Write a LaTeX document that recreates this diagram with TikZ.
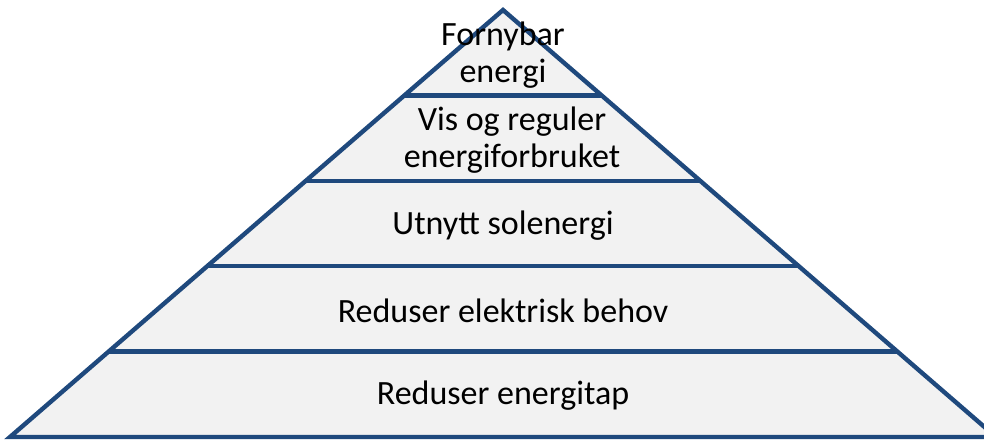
\documentclass[tikz,border=0pt]{standalone}
\usepackage{fontspec}
\setmainfont{Carlito}
\usetikzlibrary{calc}
\definecolor{pyrline}{RGB}{31,73,125}
\definecolor{pyrfill}{RGB}{242,242,242}
\tikzset{
  layer/.style={draw=pyrline,line width=3.3pt},
  label/.style={align=center,font=\fontsize{25.5}{27.5}\selectfont,inner sep=0pt}
}
\begin{document}
\begin{tikzpicture}[x=0.75pt,y=-0.75pt]
      \useasboundingbox (0,0) rectangle (984,441);
      \coordinate(T) at (503,10);
      \coordinate(L) at (10,437);
      \coordinate(R) at (996,437);
      \fill[pyrfill](T)--(L)--(R)--cycle;
      \foreach \t in {0.2,0.4,0.6,0.8}{%
        \draw[layer]($(T)!\t!(L)$)--($(T)!\t!(R)$);
      }
      \draw[layer](T)--(L)--(R)--cycle;
      \foreach \n/\x/\y/\txt in {%
        top/503/55/{Fornybar\\energi},
        vis/512/140/{Vis og reguler\\energiforbruket},
        sol/503/226/Utnytt solenergi,
        elk/503/311/Reduser elektrisk behov,
        tap/503/396/Reduser energitap}{%
          \node[label](\n) at (\x,\y){\txt};
        }
    \end{tikzpicture}
\end{document}
